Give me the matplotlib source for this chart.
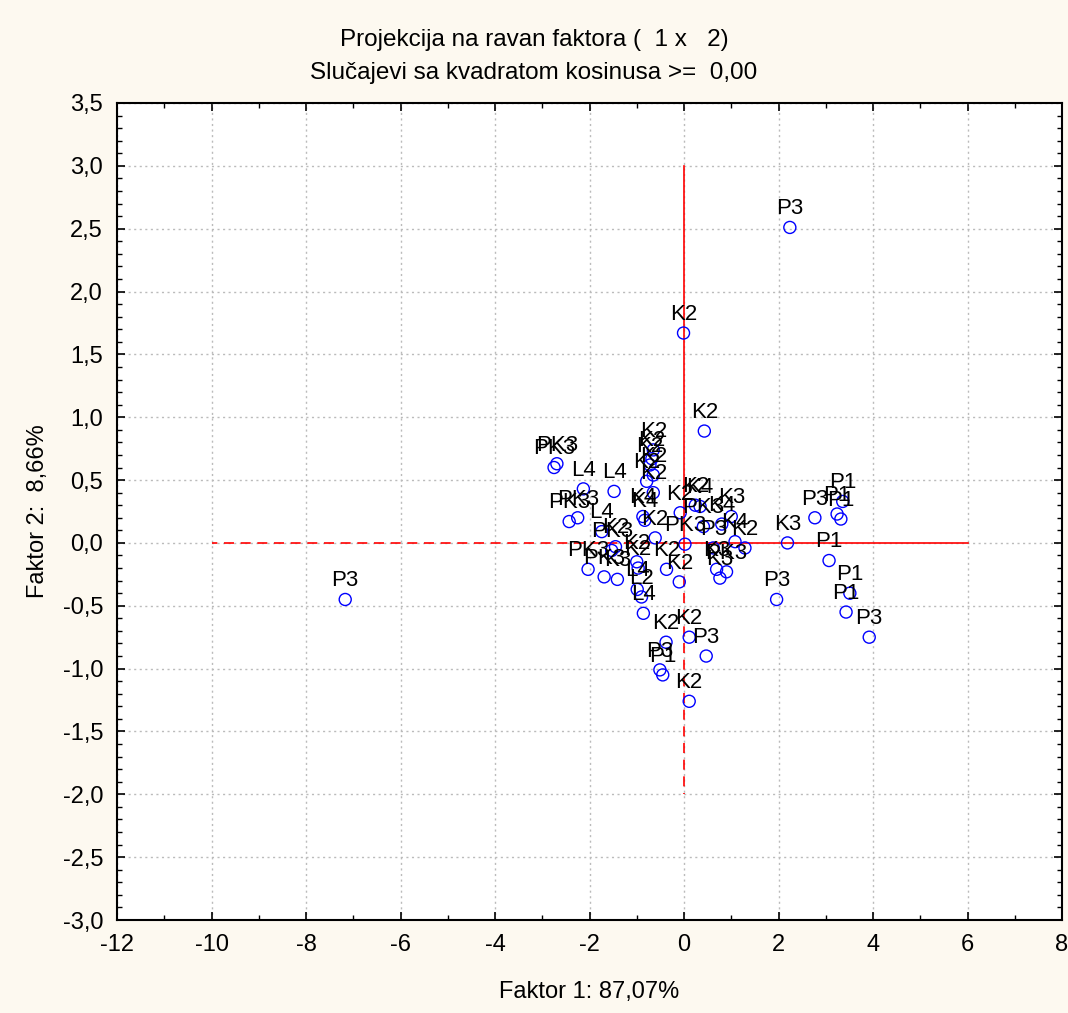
import matplotlib
matplotlib.use("Agg")
import matplotlib.pyplot as plt
from matplotlib.ticker import MultipleLocator, FuncFormatter

labels = ["P3", "K2", "K2", "P3",
          "PK3", "PK3", "L4", "L4", "PK3", "PK3", "L4", "PK3", "K2",
          "PK3", "PK3", "K3", "K2", "K2", "L4", "L2", "L4",
          "K2", "K2", "K2", "K2", "K2", "K2", "K4", "K4", "K2",
          "K2", "K2", "PK3", "K2", "K2", "K4", "K3", "K4", "K4",
          "P3", "PK3", "K3", "PK3", "K3", "K2",
          "K3", "P3", "P1", "P1", "P1", "P1", "P3", "P1", "P1", "P3",
          "K2", "P3", "K2", "P3", "P1", "K2"]
x_vals = [2.24, -0.01, 0.43, -7.17,
          -2.69, -2.75, -2.13, -1.48, -2.25, -2.43, -1.74, -1.53, -1.45,
          -2.03, -1.69, -1.41, -1.00, -0.97, -0.99, -0.90, -0.86,
          -0.65, -0.68, -0.72, -0.65, -0.79, -0.65, -0.87, -0.83, -0.61,
          -0.37, -0.10, 0.02, -0.08, 0.24, 0.34, 1.00, 0.80, 1.08,
          0.62, 0.41, 0.69, 0.90, 0.76, 1.29,
          2.19, 2.77, 3.36, 3.24, 3.32, 3.07, 1.96, 3.51, 3.43, 3.92,
          0.11, 0.47, -0.38, -0.51, -0.45, 0.11]
y_vals = [2.51, 1.67, 0.89, -0.45,
          0.63, 0.60, 0.43, 0.41, 0.20, 0.17, 0.09, -0.06, -0.03,
          -0.21, -0.27, -0.29, -0.15, -0.20, -0.37, -0.43, -0.56,
          0.74, 0.67, 0.62, 0.54, 0.49, 0.40, 0.21, 0.18, 0.04,
          -0.21, -0.31, -0.01, 0.24, 0.30, 0.29, 0.21, 0.15, 0.01,
          -0.04, 0.13, -0.21, -0.23, -0.28, -0.04,
          0.00, 0.20, 0.33, 0.23, 0.19, -0.14, -0.45, -0.40, -0.55, -0.75,
          -0.75, -0.90, -0.79, -1.01, -1.05, -1.26]

xticks = list(range(-12, 9, 2))
yticks = [-3.0, -2.5, -2.0, -1.5, -1.0, -0.5, 0.0, 0.5, 1.0, 1.5, 2.0, 2.5, 3.0, 3.5]

plt.rcParams['font.family'] = ['Liberation Sans', 'DejaVu Sans']

fig = plt.figure(figsize=(10.68, 10.13), dpi=100, facecolor='#FDF9F0')
ax = fig.add_axes([117/1068, 1 - 920/1013, 945/1068, 817/1013])
ax.set_facecolor('white')

ax.set_xlim(-12, 8)
ax.set_ylim(-3.0, 3.5)
ax.set_xticks(xticks)
ax.set_yticks(yticks)
ax.xaxis.set_minor_locator(MultipleLocator(1))
ax.yaxis.set_minor_locator(MultipleLocator(0.1))
ax.xaxis.set_major_formatter(FuncFormatter(lambda v, p: f"{v:.0f}"))
ax.yaxis.set_major_formatter(FuncFormatter(lambda v, p: f"{v:.1f}".replace('.', ',')))
ax.tick_params(which='both', direction='in', top=True, right=True, labelsize=17)
ax.tick_params(which='major', length=6, width=1.2)
ax.tick_params(axis='x', which='major', pad=10)
ax.tick_params(axis='y', which='major', pad=10)
ax.tick_params(which='minor', length=3.5, width=1)
ax.grid(True, which='major', linestyle=(0, (1.5, 2.5)), color='#BBBBBB', linewidth=1)
ax.set_axisbelow(True)
for s in ax.spines.values():
    s.set_linewidth(1.5)

# reference lines
ax.plot([0, 0], [0, 3], color='red', lw=1.2, zorder=2)
ax.plot([0, 6], [0, 0], color='red', lw=1.2, zorder=2)
ax.plot([0, -10], [0, 0], color='red', lw=1.2, ls=(0, (6, 4)), zorder=2)
ax.plot([0, 0], [0, -2], color='red', lw=1.2, ls=(0, (6, 4)), zorder=2)

ax.scatter(x_vals, y_vals, s=75, facecolors='none', edgecolors='#0000FF', linewidths=1, zorder=3)
for lab, xv, yv in zip(labels, x_vals, y_vals):
    ax.annotate(lab, (xv, yv), xytext=(0, 9.5), textcoords='offset points',
                ha='center', va='baseline', fontsize=16, color='black', zorder=4)

ax.set_xlabel("Faktor 1: 87,07%", fontsize=17, labelpad=18)
ax.set_ylabel("Faktor 2:  8,66%", fontsize=17, labelpad=10)
fig.text(0.5, 1 - 40/1013, "Projekcija na ravan faktora (  1 x   2)", ha='center', va='center', fontsize=17.5)
fig.text(0.5, 1 - 73/1013, "Slučajevi sa kvadratom kosinusa >=  0,00", ha='center', va='center', fontsize=17.5)

fig.savefig("out.png", dpi=100, facecolor=fig.get_facecolor())
